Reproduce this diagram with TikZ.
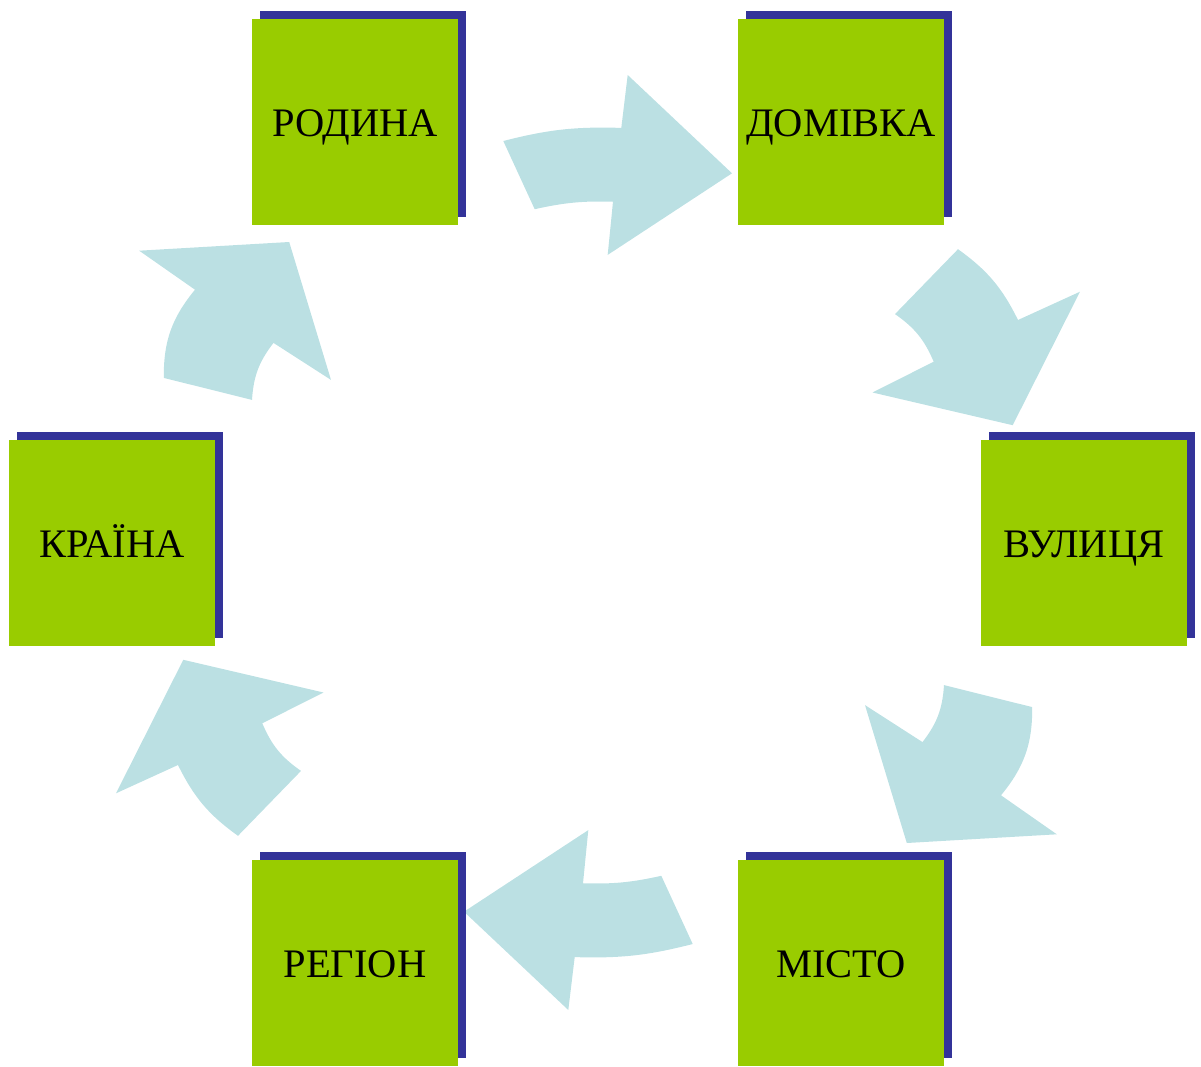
\documentclass[tikz,border=0pt]{standalone}
\usepackage{fontspec}
\setmainfont{Liberation Serif}
\usepackage{tikz}
\usetikzlibrary{shadows}

\definecolor{boxgreen}{HTML}{99CC00}
\definecolor{shadowblue}{HTML}{333399}
\definecolor{arrowblue}{HTML}{BBE0E3}

\begin{document}
\begin{tikzpicture}[
    x=1pt,y=1pt,
    box/.style={fill=boxgreen,minimum size=206pt,inner sep=0pt,
      text height=29pt,text depth=0pt,
      font=\fontsize{40.5}{42}\selectfont,
      drop shadow={shadow xshift=8pt,shadow yshift=8pt,fill=shadowblue,opacity=1}},
    turn/.style={fill=arrowblue}
  ]
    \useasboundingbox (-598,-523.5) rectangle (603,542.5);

    % curved arrows, opposite ones are point mirrored
    \foreach \r in {0,180}{
      \begin{scope}[rotate=\r]
        \fill[turn] (-94.7,401.5) to[bend left=8] (23.3,414.6) -- (29.7,467.5)
          -- (134,369.2) -- (9.7,287.6) -- (15,340.8) to[bend right=7] (-63.3,333.3) -- cycle;
        \fill[turn] (360,293.3) to[bend left=14] (420,222.5) -- (482,250.8)
          -- (414.7,117.3) -- (274.5,150) -- (335.7,180.8) to[bend right=16] (297,228.4) -- cycle;
        \fill[turn] (434.2,-164.6) to[bend left=20] (403,-252.8) -- (458.8,-291.8)
          -- (308.8,-300.5) -- (267,-162.6) -- (324.5,-199.6) to[bend right=17] (346,-142.6) -- cycle;
      \end{scope}
    }

    \node[box] (rodyna)  at (120:486)  {РОДИНА};
    \node[box] (domivka) at (60:486)   {ДОМІВКА};
    \node[box] (vulytsia) at (0:486)   {ВУЛИЦЯ};
    \node[box] (misto)   at (-60:486)  {МІСТО};
    \node[box] (region)  at (-120:486) {РЕГІОН};
    \node[box] (kraina)  at (180:486)  {КРАЇНА};
\end{tikzpicture}
\end{document}
